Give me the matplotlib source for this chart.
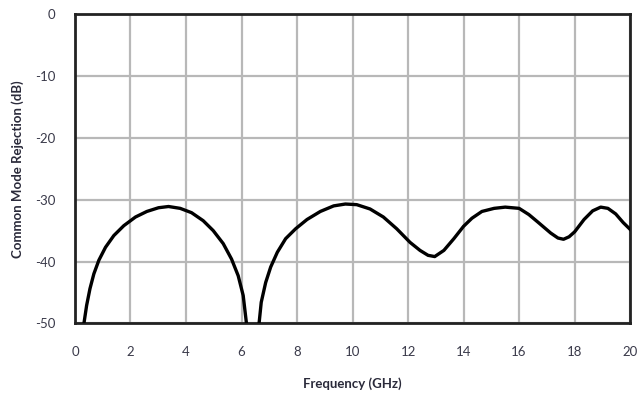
import matplotlib
matplotlib.use('Agg')
import matplotlib.pyplot as plt

# Frequency (GHz) and common mode rejection (dB)
# (None splits the curve at the null near 6.4 GHz)
freq = [0.32, 0.42, 0.54, 0.68, 0.86, 1.10, 1.40, 1.76, 2.18, 2.59, 3.01, 3.37, 3.79,
        4.20, 4.62, 4.98, 5.34, 5.64, 5.88, 6.06, 6.18,
        None,
        6.63, 6.71, 6.87, 7.05, 7.29, 7.59, 7.95, 8.36, 8.84, 9.32, 9.74, 10.15, 10.63,
        11.11, 11.59, 12.07, 12.43, 12.72, 12.96, 13.29, 13.65, 14.0, 14.3, 14.66, 15.1,
        15.5, 16.0, 16.35, 16.67, 17.14, 17.4, 17.6, 17.8, 18.0, 18.34, 18.65, 18.94,
        19.2, 19.48, 19.75, 20.0]
cmr = [-50.1, -47.1, -44.4, -42.0, -39.8, -37.7, -35.8, -34.2, -32.8, -31.9, -31.3, -31.1, -31.4,
       -32.1, -33.4, -35.0, -37.1, -39.6, -42.3, -45.5, -50.1,
       None,
       -50.1, -46.6, -43.4, -40.9, -38.5, -36.3, -34.7, -33.2, -31.9, -31.0, -30.7, -30.8, -31.5,
       -32.8, -34.7, -36.9, -38.2, -39.0, -39.2, -38.2, -36.3, -34.3, -33.0, -31.9, -31.4,
       -31.2, -31.4, -32.4, -33.6, -35.4, -36.2, -36.4, -36.0, -35.2, -33.2, -31.8, -31.2,
       -31.4, -32.3, -33.7, -34.8]

x_ticks = [0, 2, 4, 6, 8, 10, 12, 14, 16, 18, 20]
y_ticks = [0, -10, -20, -30, -40, -50]
y_tick_labels = ['0', '-10', '-20', '-30', '-40', '-50']

plt.rcParams['font.family'] = ['Lato', 'DejaVu Sans']

fig = plt.figure(figsize=(6.43, 3.97), dpi=100)
ax = fig.add_axes([0.1166, 0.1856, 0.8634, 0.7784])

xs = [f if f is not None else float('nan') for f in freq]
ys = [v if v is not None else float('nan') for v in cmr]
ax.plot(xs, ys, color='black', lw=2.4, solid_joinstyle='round', zorder=3)

ax.set_xlim(0, 20)
ax.set_ylim(-50, 0)
ax.set_xticks(x_ticks)
ax.set_yticks(y_ticks)
ax.set_yticklabels(y_tick_labels)
ax.grid(True, color='#b8b8b8', lw=1.6)
ax.set_axisbelow(True)
for s in ax.spines.values():
    s.set_color('#222222')
    s.set_linewidth(2.0)
ax.tick_params(length=0, labelsize=9.5, colors='#3a3a4a')
ax.tick_params(axis='x', pad=16)
ax.tick_params(axis='y', pad=14)

ax.set_xlabel('Frequency (GHz)', fontsize=9.5, fontweight='bold', color='#2a2a3a', labelpad=14)
ax.set_ylabel('Common Mode Rejection (dB)', fontsize=9.5, fontweight='bold', color='#2a2a3a', labelpad=8)

fig.savefig('out.png', dpi=100)
